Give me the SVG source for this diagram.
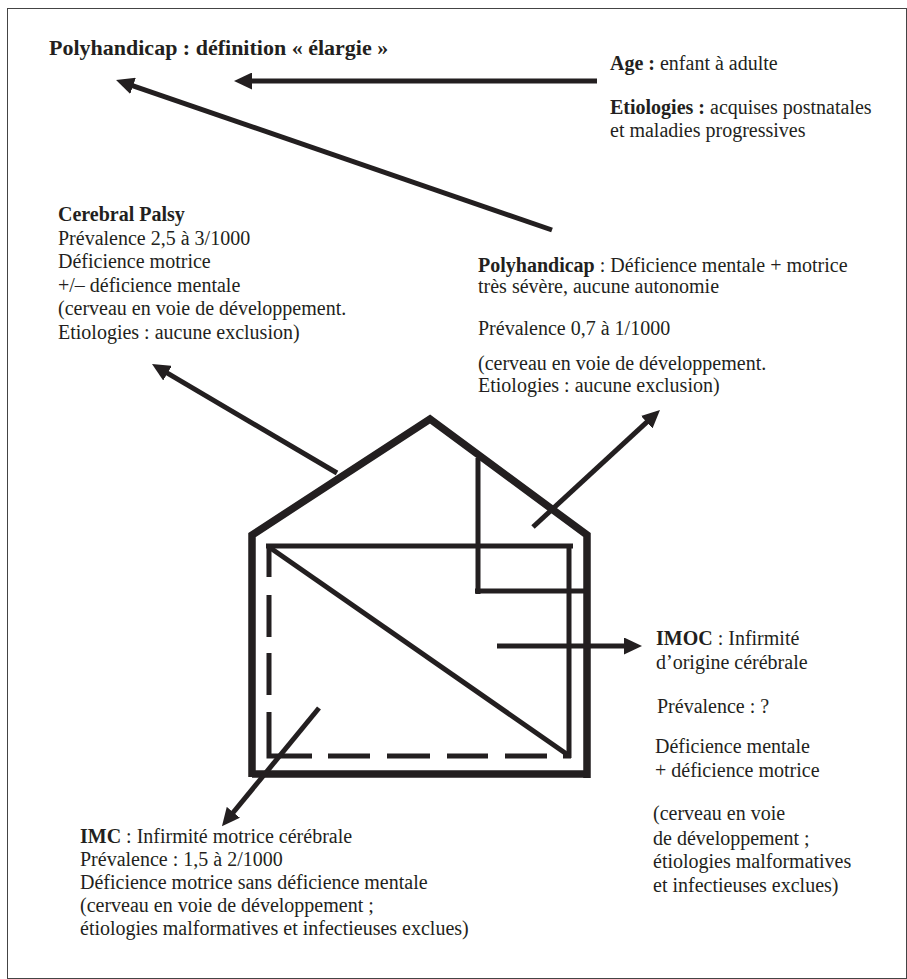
<svg xmlns="http://www.w3.org/2000/svg" width="907" height="979" viewBox="0 0 907 979">
  <style>
    text { font-family: "Liberation Serif", "Times New Roman", serif; font-size: 20px; fill: #231f20; }
    .b { font-weight: bold; }
    .title { font-size: 22px; font-weight: bold; }
    .thick { fill: none; stroke: #231f20; stroke-width: 7.5; stroke-linejoin: miter; }
    .mid { fill: none; stroke: #231f20; stroke-width: 5; }
    .conn { fill: none; stroke: #231f20; stroke-width: 5; }
  </style>
  <defs>
    <marker id="ah" viewBox="0 0 18 17" refX="10" refY="8.5" markerWidth="18" markerHeight="17" orient="auto" markerUnits="userSpaceOnUse">
      <path d="M0,0 L18,8.5 L0,17 z" fill="#231f20"/>
    </marker>
  </defs>
  <rect x="0" y="0" width="907" height="979" fill="#ffffff"/>
  <rect x="7.5" y="8.5" width="899" height="970" fill="none" stroke="#444" stroke-width="1"/>

  <g id="title">
    <text class="title" x="49" y="55">Polyhandicap : définition « élargie »</text>
  </g>

  <g id="age-etiologies">
    <text x="610" y="70"><tspan class="b">Age :</tspan> enfant à adulte</text>
    <text x="610" y="114"><tspan class="b">Etiologies :</tspan> acquises postnatales</text>
    <text x="610" y="137">et maladies progressives</text>
  </g>

  <g id="cerebral-palsy">
    <text class="b" x="58" y="221">Cerebral Palsy</text>
    <text x="58" y="244.5">Prévalence 2,5 à 3/1000</text>
    <text x="58" y="268">Déficience motrice</text>
    <text x="58" y="291.5">+/– déficience mentale</text>
    <text x="58" y="315">(cerveau en voie de développement.</text>
    <text x="58" y="338.5">Etiologies : aucune exclusion)</text>
  </g>

  <g id="polyhandicap">
    <text x="478" y="272"><tspan class="b">Polyhandicap</tspan> : Déficience mentale + motrice</text>
    <text x="478" y="293">très sévère, aucune autonomie</text>
    <text x="478" y="335">Prévalence 0,7 à 1/1000</text>
    <text x="478" y="370">(cerveau en voie de développement.</text>
    <text x="478" y="392">Etiologies : aucune exclusion)</text>
  </g>

  <g id="imoc">
    <text x="656" y="645"><tspan class="b">IMOC</tspan> : Infirmité</text>
    <text x="656" y="669">d’origine cérébrale</text>
    <text x="657" y="713">Prévalence : ?</text>
    <text x="655" y="753">Déficience mentale</text>
    <text x="655" y="777">+ déficience motrice</text>
    <text x="653" y="820">(cerveau en voie</text>
    <text x="653" y="845">de développement ;</text>
    <text x="653" y="868">étiologies malformatives</text>
    <text x="653" y="892">et infectieuses exclues)</text>
  </g>

  <g id="imc">
    <text x="80" y="843"><tspan class="b">IMC</tspan> : Infirmité motrice cérébrale</text>
    <text x="80" y="866">Prévalence : 1,5 à 2/1000</text>
    <text x="80" y="889">Déficience motrice sans déficience mentale</text>
    <text x="80" y="912">(cerveau en voie de développement ;</text>
    <text x="80" y="935">étiologies malformatives et infectieuses exclues)</text>
  </g>

  <g id="house">
    <path class="thick" d="M252,777 V535 L430,419 L587,535 V778 M252,774 H590"/>
    <path class="mid" d="M266,546 H573 M569,546 V758"/>
    <path class="mid" d="M269,547 L568,755"/>
    <path class="mid" stroke-width="6" d="M478,458 V594 M475,591 H587"/>
    <path class="mid" d="M269,547 V577 M269,595 V637 M269,653 V695 M269,712 V758.5 M266.5,756 H312 M328,756 H370 M387,756 H430 M447,756 H488 M505,756 H547 M563,756 H571"/>
  </g>

  <g id="connectors">
    <line class="conn" stroke-width="5.5" x1="597" y1="81" x2="242" y2="81" marker-end="url(#ah)"/>
    <line class="conn" stroke-width="5.5" x1="552" y1="230" x2="123.6" y2="82.6" marker-end="url(#ah)"/>
    <line class="conn" x1="337" y1="473" x2="158.9" y2="368.1" marker-end="url(#ah)"/>
    <line class="conn" x1="533" y1="527" x2="654.1" y2="415.4" marker-end="url(#ah)"/>
    <line class="conn" x1="497" y1="646" x2="634" y2="646" marker-end="url(#ah)"/>
    <line class="conn" x1="319" y1="708" x2="227" y2="820" marker-end="url(#ah)"/>
  </g>
</svg>
